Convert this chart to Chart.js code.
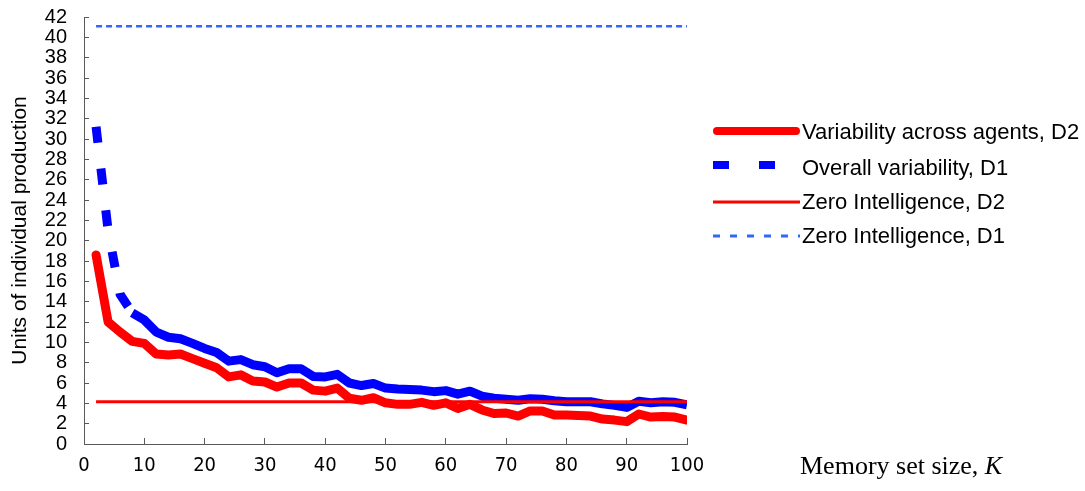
<!DOCTYPE html>
<html>
<head>
<meta charset="utf-8">
<script src="https://cdn.jsdelivr.net/npm/chart.js@4.4.1/dist/chart.umd.min.js"></script>
<style>
    html, body { margin: 0; padding: 0; background: #fff; }
    #wrap { width: 1085px; height: 491px; }
</style>
</head>
<body>
<div id="wrap"><canvas id="chart" width="1085" height="491"></canvas></div>
<script>
// memory set size K
const memorySizes = [
    2, 4, 6, 8, 10, 12, 14, 16, 18, 20,
    22, 24, 26, 28, 30, 32, 34, 36, 38, 40,
    42, 44, 46, 48, 50, 52, 54, 56, 58, 60,
    62, 64, 66, 68, 70, 72, 74, 76, 78, 80,
    82, 84, 86, 88, 90, 92, 94, 96, 98, 100,
];

const acrossAgentsD2 = [
    18.6, 12.0, 11.0, 10.1, 9.9, 8.85, 8.75, 8.85, 8.4, 7.95,
    7.5, 6.6, 6.8, 6.2, 6.1, 5.6, 6.0, 6.0, 5.3, 5.2,
    5.5, 4.5, 4.3, 4.55, 4.05, 3.9, 3.9, 4.1, 3.8, 4.05,
    3.5, 3.9, 3.35, 3.0, 3.05, 2.75, 3.25, 3.25, 2.85, 2.85,
    2.8, 2.75, 2.45, 2.35, 2.2, 2.95, 2.65, 2.7, 2.65, 2.35,
];

const overallD1 = [
    31.2, 21.0, 14.7, 12.9, 12.2, 11.0, 10.5, 10.35, 9.9, 9.4,
    9.0, 8.15, 8.3, 7.8, 7.6, 7.0, 7.4, 7.4, 6.65, 6.6,
    6.85, 6.0, 5.75, 5.95, 5.5, 5.4, 5.35, 5.3, 5.15, 5.25,
    4.9, 5.2, 4.7, 4.5, 4.4, 4.3, 4.45, 4.4, 4.25, 4.15,
    4.15, 4.15, 3.95, 3.8, 3.6, 4.2, 4.05, 4.15, 4.1, 3.85,
];

const zeroIntelD2 = 4.15;
const zeroIntelD1 = 41.1;

const xTickValues = [0, 10, 20, 30, 40, 50, 60, 70, 80, 90, 100];
const yTickValues = [0, 2, 4, 6, 8, 10, 12, 14, 16, 18, 20, 22, 24, 26, 28, 30, 32, 34, 36, 38, 40, 42];

const seriesLabels = [
    'Variability across agents, D2',
    'Overall variability, D1',
    'Zero Intelligence, D2',
    'Zero Intelligence, D1',
];

const RED = '#ff0000';
const BLUE = '#0000ff';
const LIGHT_BLUE = '#3366ff';
const AXIS = '#595959';

const toPoints = (values) => memorySizes.map((k, i) => ({ x: k, y: values[i] }));
const flatLine = (value) => [
    { x: memorySizes[0], y: value },
    { x: memorySizes[memorySizes.length - 1], y: value },
];

// legend samples + axis caption sit outside the plot, drawn after the chart
const legendRows = [
    { color: RED, width: 8, dash: [], cap: 'round', y: 131, textY: 133 },
    { color: BLUE, width: 8, dash: [16, 30], cap: 'butt', y: 165, textY: 169 },
    { color: RED, width: 3, dash: [], cap: 'butt', y: 202, textY: 203 },
    { color: LIGHT_BLUE, width: 3, dash: [7, 10], cap: 'butt', y: 236, textY: 237 },
];

const sideLegend = {
    id: 'sideLegend',
    afterDraw(chart) {
        const { ctx } = chart;
        ctx.save();
        legendRows.forEach((row, i) => {
            ctx.beginPath();
            ctx.strokeStyle = row.color;
            ctx.lineWidth = row.width;
            ctx.lineCap = row.cap;
            ctx.setLineDash(row.dash);
            const x0 = row.cap === 'round' ? 717 : 713;
            const x1 = row.cap === 'round' ? 796 : 800;
            ctx.moveTo(x0, row.y);
            ctx.lineTo(x1, row.y);
            ctx.stroke();

            ctx.setLineDash([]);
            ctx.fillStyle = '#000';
            ctx.font = '22px "Liberation Sans", Arial, sans-serif';
            ctx.textBaseline = 'middle';
            ctx.textAlign = 'left';
            ctx.fillText(seriesLabels[i], 802, row.textY);
        });

        // x axis caption: "Memory set size, K"
        ctx.fillStyle = '#000';
        ctx.textBaseline = 'middle';
        ctx.font = '26px "Liberation Serif", "Times New Roman", serif';
        const lead = 'Memory set size, ';
        ctx.fillText(lead, 800, 467);
        const leadWidth = ctx.measureText(lead).width;
        ctx.font = 'italic 26px "Liberation Serif", "Times New Roman", serif';
        ctx.fillText('K', 800 + leadWidth, 467);
        ctx.restore();
    },
};

const ctx = document.getElementById('chart').getContext('2d');

new Chart(ctx, {
    type: 'line',
    data: {
        datasets: [
            {
                label: seriesLabels[2],
                data: flatLine(zeroIntelD2),
                borderColor: RED,
                borderWidth: 3,
                order: 0,
            },
            {
                label: seriesLabels[0],
                data: toPoints(acrossAgentsD2),
                borderColor: RED,
                borderWidth: 9,
                borderCapStyle: 'round',
                borderJoinStyle: 'round',
                order: 1,
            },
            {
                label: seriesLabels[1],
                data: toPoints(overallD1),
                borderColor: BLUE,
                borderWidth: 9,
                borderCapStyle: 'butt',
                borderJoinStyle: 'round',
                segment: {
                    borderDash: (c) => (c.p0DataIndex < 3 ? [16, 26] : undefined),
                },
                order: 2,
            },
            {
                label: seriesLabels[3],
                data: flatLine(zeroIntelD1),
                borderColor: LIGHT_BLUE,
                borderWidth: 2.5,
                borderDash: [6, 4],
                order: 3,
            },
        ],
    },
    options: {
        responsive: false,
        animation: false,
        devicePixelRatio: 1,
        elements: {
            point: { radius: 0, hoverRadius: 0 },
            line: { tension: 0, fill: false },
        },
        layout: { padding: { top: 17, right: 398, bottom: 0, left: 0 } },
        plugins: {
            legend: { display: false },
            tooltip: { enabled: false },
        },
        scales: {
            x: {
                type: 'linear',
                position: 'bottom',
                min: 0,
                max: 100,
                afterBuildTicks: (scale) => {
                    scale.ticks = xTickValues.map((v) => ({ value: v }));
                },
                afterFit: (scale) => {
                    scale.height = 47;
                    scale.paddingLeft = 0;
                    scale.paddingRight = 0;
                },
                grid: {
                    drawOnChartArea: false,
                    tickLength: -6,
                    tickColor: AXIS,
                },
                border: { color: AXIS, width: 1 },
                ticks: {
                    autoSkip: false,
                    maxRotation: 0,
                    padding: 16,
                    color: '#000',
                    font: { family: '"Liberation Sans Narrow", "DejaVu Sans Condensed", sans-serif', size: 20 },
                },
            },
            y: {
                min: 0,
                max: 42,
                afterBuildTicks: (scale) => {
                    scale.ticks = yTickValues.map((v) => ({ value: v }));
                },
                afterFit: (scale) => {
                    scale.width = 84;
                    scale.paddingTop = 0;
                    scale.paddingBottom = 0;
                },
                grid: {
                    drawOnChartArea: false,
                    tickLength: -5,
                    tickColor: AXIS,
                },
                border: { color: AXIS, width: 1 },
                ticks: {
                    autoSkip: false,
                    padding: 22,
                    color: '#000',
                    font: { family: '"Liberation Sans", Arial, sans-serif', size: 20 },
                },
                title: {
                    display: true,
                    text: 'Units of individual production',
                    color: '#000',
                    font: { family: '"Liberation Sans", Arial, sans-serif', size: 21 },
                    padding: { top: 8, bottom: 0 },
                },
            },
        },
    },
    plugins: [sideLegend],
});
</script>
</body>
</html>
